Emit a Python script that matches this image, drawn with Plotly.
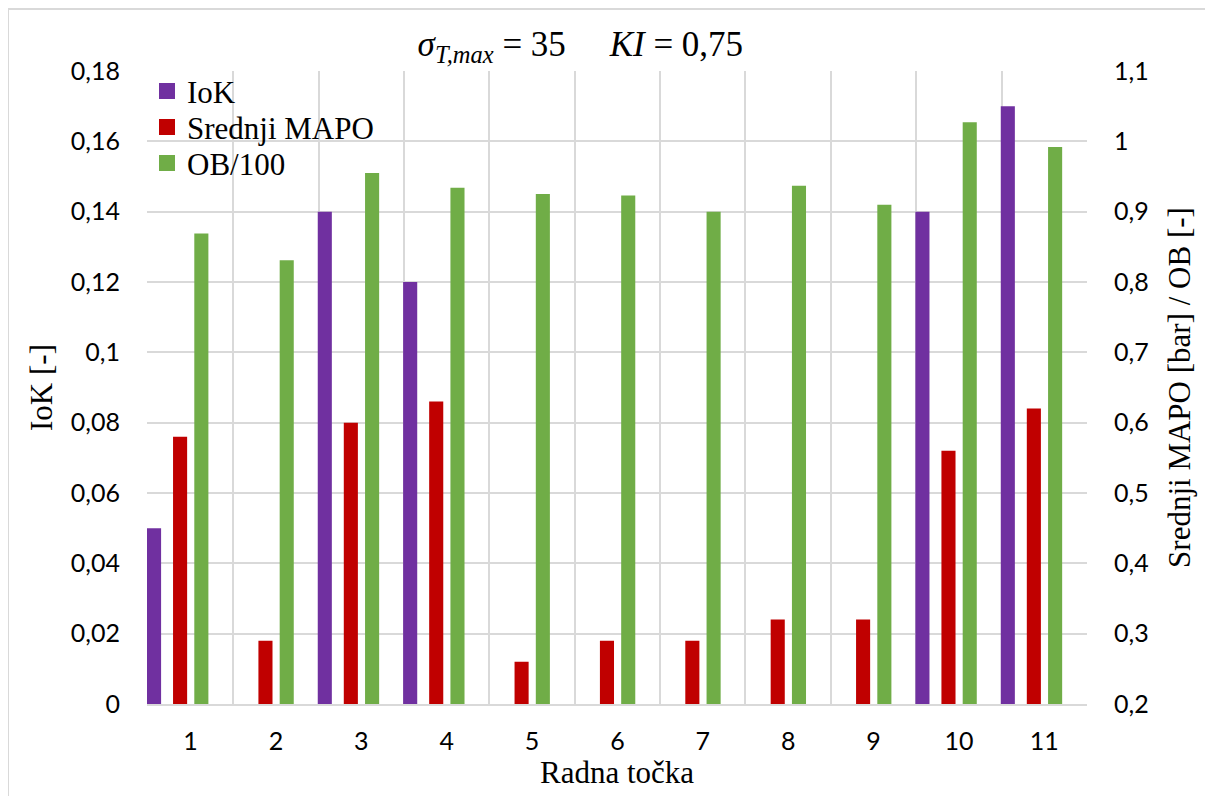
import plotly.graph_objects as go

# data
tocke = [str(i) for i in range(1, 12)]
iok = [0.05, 0, 0.14, 0.12, 0, 0, 0, 0, 0, 0.14, 0.17]
mapo = [0.58, 0.29, 0.60, 0.63, 0.26, 0.29, 0.29, 0.32, 0.32, 0.56, 0.62]
ob_100 = [0.869, 0.831, 0.955, 0.934, 0.925, 0.923, 0.900, 0.937, 0.910, 1.027, 0.992]

names = ["IoK", "Srednji MAPO", "OB/100"]
colors = ["#7030A0", "#C00000", "#70AD47"]

serif = "Liberation Serif, Times New Roman, serif"
sans = "Lato, Carlito, Calibri, sans-serif"
grid = "#d9d9d9"

fig = go.Figure()
fig.add_trace(go.Bar(x=tocke, y=iok, name=names[0], marker_color=colors[0], showlegend=False,
                     marker_line_width=0, width=0.165, offset=-0.51, yaxis="y"))
fig.add_trace(go.Bar(x=tocke, y=mapo, name=names[1], marker_color=colors[1], showlegend=False,
                     marker_line_width=0, width=0.165, offset=-0.205, yaxis="y2"))
fig.add_trace(go.Bar(x=tocke, y=ob_100, name=names[2], marker_color=colors[2], showlegend=False,
                     marker_line_width=0, width=0.165, offset=0.044, yaxis="y2"))

# legend entries with larger square swatches, one legend per entry to control spacing
legend_ids = ["legend", "legend2", "legend3"]
legend_y = [0.968, 0.911, 0.854]
for name, col, lid in zip(names, colors, legend_ids):
    fig.add_trace(go.Scatter(x=[None], y=[None], mode="markers", name=name,
                             marker=dict(symbol="square", size=18, color=col),
                             legend=lid, showlegend=True))

legend_style = dict(x=0.0, xanchor="left", yanchor="middle", bgcolor="rgba(0,0,0,0)",
                    font=dict(family=serif, size=31, color="black"),
                    itemwidth=30, itemsizing="trace", borderwidth=0)

# page body adds an 8px offset, so the figure is 8px smaller than the window
fig.update_layout(
    width=1205, height=788,
    margin=dict(l=139, r=126, t=63, b=92, autoexpand=False),
    plot_bgcolor="white", paper_bgcolor="white",
    separators=", ",
    barmode="overlay",
    title=dict(
        text="<i>σ</i><sub><i>T,max</i></sub> = 35     <i>KI</i> = 0,75",
        x=0.475, xref="container", xanchor="center",
        y=0.955, yref="container", yanchor="middle",
        font=dict(family=serif, size=35, color="black"),
    ),
    legend=dict(y=legend_y[0], **legend_style),
    legend2=dict(y=legend_y[1], **legend_style),
    legend3=dict(y=legend_y[2], **legend_style),
    xaxis=dict(
        type="category", tickson="boundaries", showgrid=True, gridcolor=grid, gridwidth=1.5,
        ticks="", showline=True, linecolor=grid, linewidth=1.5, automargin=False,
        tickfont=dict(family=sans, size=25, color="black"),
        ticklabelstandoff=14,
        title=dict(text="Radna točka", font=dict(family=serif, size=31, color="black"), standoff=4),
    ),
    yaxis=dict(
        range=[0, 0.18], dtick=0.02, showgrid=True, gridcolor=grid, gridwidth=1.5,
        zeroline=False, ticks="", ticklabelstandoff=26, automargin=False,
        tickfont=dict(family=sans, size=25, color="black"),
        title=dict(text="IoK [-]", font=dict(family=serif, size=31, color="black"), standoff=8),
    ),
    yaxis2=dict(
        range=[0.2, 1.1], dtick=0.1, overlaying="y", side="right", showgrid=False,
        zeroline=False, ticks="", ticklabelstandoff=26, automargin=False,
        tickfont=dict(family=sans, size=25, color="black"),
        title=dict(text="Srednji MAPO [bar] / OB [-]", font=dict(family=serif, size=31, color="black"),
                   standoff=20),
    ),
    shapes=[dict(type="rect", xref="paper", yref="paper",
                 x0=(0 - 139) / 940, x1=(1240 - 139) / 940,
                 y0=(696 - 820) / 633, y1=(696 - 1) / 633,
                 line=dict(color=grid, width=2), layer="below")],
)

fig.write_html("out.html")
